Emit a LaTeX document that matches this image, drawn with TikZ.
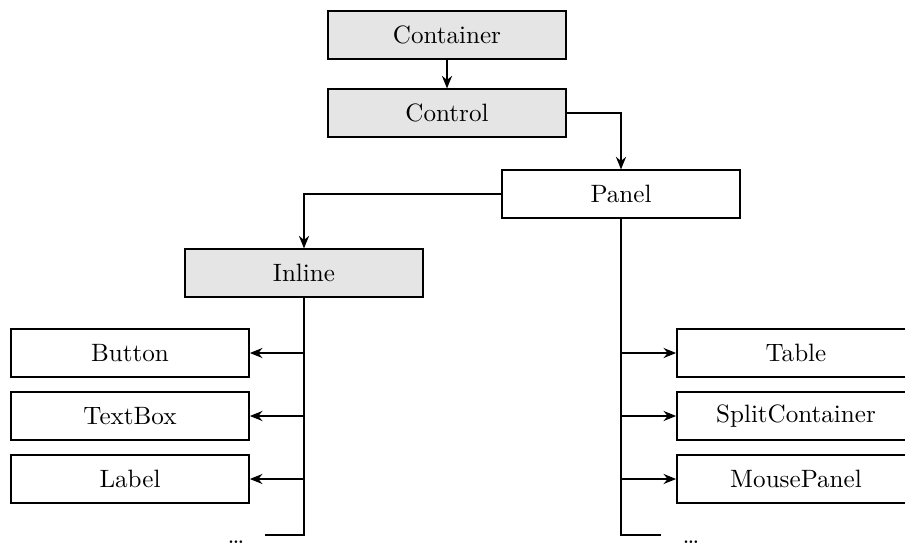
\documentclass[tikz,border=0pt]{standalone}
\usetikzlibrary{arrows.meta}

\begin{document}
\begin{tikzpicture}[x=0.014cm,y=-0.014cm,
		box/.style={draw,thick,minimum width=3.33cm,minimum height=0.66cm,inner sep=0pt},
		basebox/.style={box,fill=gray!20},
		link/.style={thick,-{Stealth[length=5pt,width=4pt]}},
		trunk/.style={thick}]
		\useasboundingbox (0,0) rectangle (905,547);
		\clip (0,0) rectangle (905,547);
		% top of the hierarchy
		\node[basebox] (container) at (447,35) {Container};
		\node[basebox] (control) at (447,113) {Control};
		\node[box] (panel) at (621,194) {Panel};
		\node[basebox] (inline) at (304,273) {Inline};
		% inline children
		\node[box] (button) at (130,353) {Button};
		\node[box] (textbox) at (130,416) {TextBox};
		\node[box] (label) at (130,479) {Label};
		% panel children
		\node[box] (table) at (796,353) {Table};
		\node[box] (split) at (796,416) {SplitContainer};
		\node[box] (mouse) at (796,479) {MousePanel};
		\coordinate (inline-tail) at (265,535);
		\coordinate (panel-tail) at (661,535);
		\node[inner sep=1pt] (inline-dots) at (236,542) {\dots};
		\node[inner sep=1pt] (panel-dots) at (691,542) {\dots};
		\draw[link] (container) -- (control);
		\draw[link] (control.east) -| (panel);
		\draw[link] (panel.west) -| (inline);
		\draw[trunk] (inline) |- (inline-tail);
		\draw[trunk] (panel) |- (panel-tail);
		\draw[link] (inline |- button) -- (button);
		\draw[link] (inline |- textbox) -- (textbox);
		\draw[link] (inline |- label) -- (label);
		\draw[link] (panel |- table) -- (table);
		\draw[link] (panel |- split) -- (split);
		\draw[link] (panel |- mouse) -- (mouse);
	\end{tikzpicture}
\end{document}
